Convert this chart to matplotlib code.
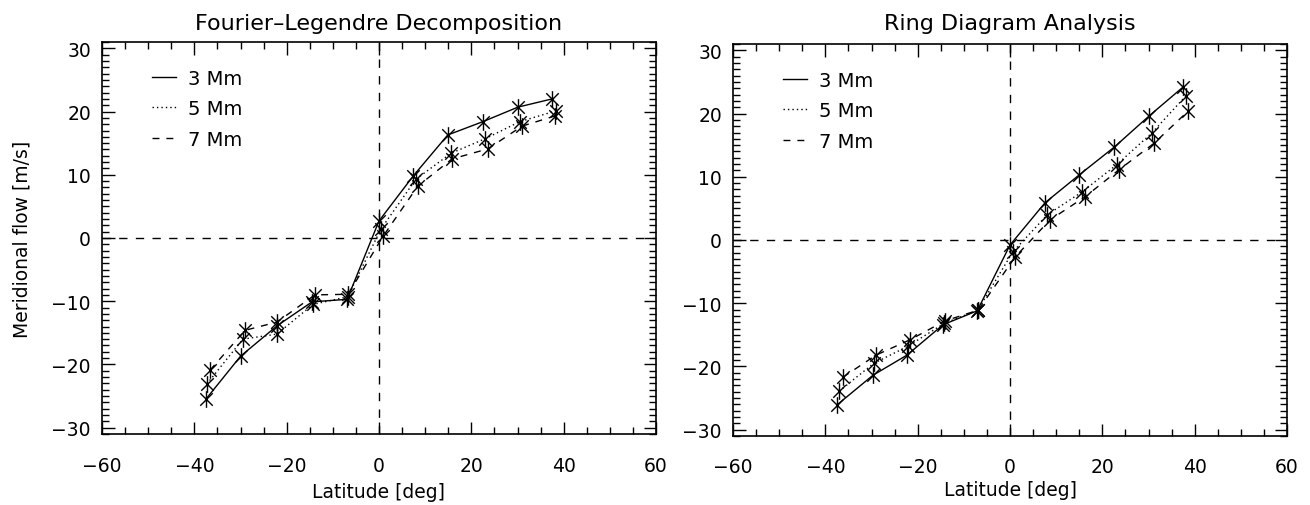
import matplotlib
matplotlib.use("Agg")
import matplotlib.pyplot as plt
from matplotlib.path import Path
from matplotlib.lines import Line2D
from matplotlib.ticker import MultipleLocator

plt.rcParams['font.family'] = ['DejaVu Sans']

# ---------------- data ----------------
depth_labels = ["3 Mm", "5 Mm", "7 Mm"]

# Fourier-Legendre Decomposition
fl_lat_3 = [-37.5, -30.0, -22.1, -14.5, -6.9, 0.0, 7.4, 14.9, 22.5, 30.1, 37.5]
fl_v_3   = [-25.5, -18.7, -13.9, -10.1, -9.7, 2.7, 9.8, 16.3, 18.4, 20.7, 22.0]
fl_lat_5 = [-37.3, -29.5, -22.1, -14.3, -6.8, 0.4, 8.0, 15.6, 23.0, 30.5, 38.3]
fl_v_5   = [-23.1, -16.0, -15.2, -10.5, -9.3, 1.4, 9.3, 13.4, 15.7, 18.4, 20.1]
fl_lat_7 = [-36.6, -29.0, -22.1, -13.9, -6.7, 0.9, 8.4, 15.8, 23.6, 31.0, 38.1]
fl_v_7   = [-20.9, -14.6, -13.3, -9.0, -8.9, 0.3, 8.2, 12.5, 14.1, 17.7, 19.3]

# Ring Diagram Analysis
rd_lat_3 = [-37.5, -29.7, -22.3, -14.5, -7.1, 0.0, 7.6, 15.0, 22.6, 30.1, 37.5]
rd_v_3   = [-26.1, -21.4, -18.2, -13.4, -11.2, -0.8, 5.9, 10.3, 14.7, 19.6, 24.2]
rd_lat_5 = [-37.0, -29.5, -22.1, -14.3, -7.0, 0.6, 8.1, 15.6, 23.1, 30.7, 38.1]
rd_v_5   = [-23.9, -19.5, -16.8, -13.2, -11.1, -1.9, 4.0, 7.6, 11.9, 16.9, 22.8]
rd_lat_7 = [-36.2, -29.0, -21.7, -14.1, -6.9, 1.1, 8.7, 16.2, 23.6, 31.2, 38.6]
rd_v_7   = [-21.7, -18.2, -15.8, -12.8, -11.1, -2.7, 3.2, 6.8, 11.1, 15.3, 20.4]

titles = ["Fourier\u2013Legendre Decomposition", "Ring Diagram Analysis"]
xticks = [-60, -40, -20, 0, 20, 40, 60]
yticks = [-30, -20, -10, 0, 10, 20, 30]

# ---------------- style ----------------
ast = Path([(0, -1), (0, 1), (-0.75, -0.75), (0.75, 0.75), (-0.75, 0.75), (0.75, -0.75)],
           [Path.MOVETO, Path.LINETO, Path.MOVETO, Path.LINETO, Path.MOVETO, Path.LINETO])
styles = ['-', (0, (1, 2.2)), (0, (5, 5))]

W, H = 1310, 506
fig = plt.figure(figsize=(W / 100, H / 100), dpi=100)
ax1 = fig.add_axes([102 / W, 1 - 435 / H, 554 / W, 392 / H])
ax2 = fig.add_axes([733 / W, 1 - 437 / H, 554 / W, 392 / H])

panels = [
    (ax1, [(fl_lat_3, fl_v_3), (fl_lat_5, fl_v_5), (fl_lat_7, fl_v_7)]),
    (ax2, [(rd_lat_3, rd_v_3), (rd_lat_5, rd_v_5), (rd_lat_7, rd_v_7)]),
]

for i, (ax, series) in enumerate(panels):
    ax.axhline(0, color='black', lw=1.0, ls=(0, (6, 6)))
    ax.axvline(0, color='black', lw=1.0, ls=(0, (6, 6)))
    for (lat, v), ls in zip(series, styles):
        ax.plot(lat, v, color='black', lw=1.0, ls=ls,
                marker=ast, markersize=12, markeredgewidth=1.0,
                markerfacecolor='none', markeredgecolor='black')
    ax.set_xlim(-60, 60)
    ax.set_ylim(-31, 31)
    ax.set_xticks(xticks)
    ax.set_xticklabels([f"{t:d}".replace('-', '\u2212') for t in xticks])
    ax.set_yticks(yticks)
    ax.set_yticklabels([f"{t:d}".replace('-', '\u2212') for t in yticks])
    ax.xaxis.set_minor_locator(MultipleLocator(5))
    ax.yaxis.set_minor_locator(MultipleLocator(1))
    ax.tick_params(which='both', direction='in', top=True, right=True,
                   labelsize=13.5, width=1.0)
    ax.tick_params(which='major', length=9)
    ax.tick_params(which='minor', length=5)
    ax.tick_params(axis='x', which='major', pad=16 if i == 0 else 15)
    ax.tick_params(axis='y', which='major', pad=8)
    for s in ax.spines.values():
        s.set_linewidth(1.2)
    ax.set_title(titles[i], fontsize=16, pad=9 if i == 0 else 11)
    ax.set_xlabel("Latitude [deg]", fontsize=13.5, labelpad=5 if i == 0 else 3)

    handles = [Line2D([], [], color='black', lw=1.0, ls=ls) for ls in styles]
    ax.legend(handles, depth_labels, loc='upper left',
              bbox_to_anchor=(0.058, 0.977), frameon=False, fontsize=14,
              handlelength=1.25, handletextpad=0.6, labelspacing=0.6)

ax1.set_ylabel("Meridional flow [m/s]", fontsize=13.5, labelpad=14)

fig.savefig("out.png", dpi=100)
